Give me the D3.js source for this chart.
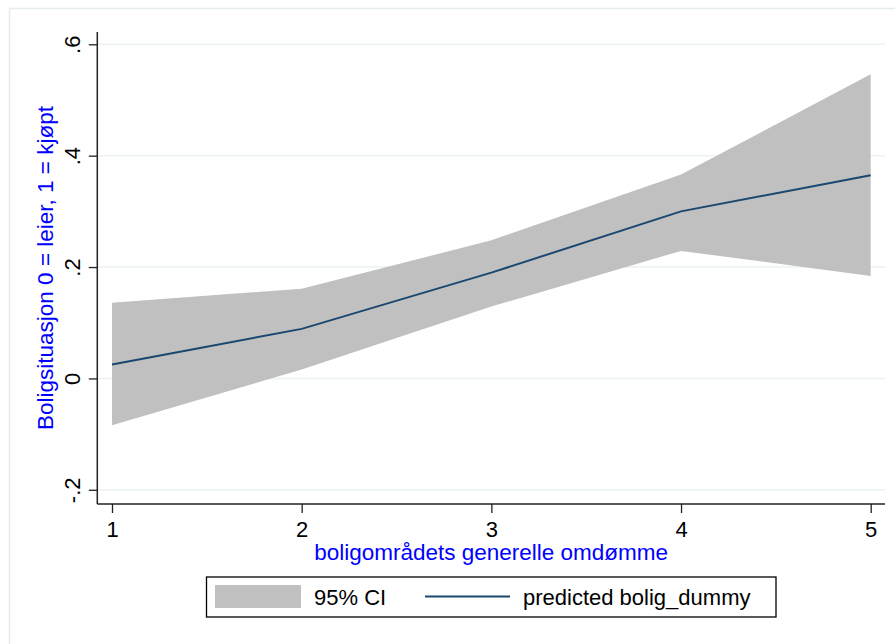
<!DOCTYPE html>
<html>
<head>
<meta charset="utf-8">
<script src="https://cdn.jsdelivr.net/npm/d3@7/dist/d3.min.js"></script>
<style>
  html, body { margin: 0; padding: 0; background: #ffffff; }
  svg { display: block; font-family: "Liberation Sans", Arial, Helvetica, sans-serif; }
</style>
</head>
<body>
<svg id="chart" width="895" height="644"></svg>
<script>
// Predicted margins with 95% confidence band
const categories = [1, 2, 3, 4, 5];
const predicted  = [0.025, 0.089, 0.190, 0.300, 0.365];
const ciLower    = [-0.084, 0.016, 0.129, 0.229, 0.184];
const ciUpper    = [0.136, 0.161, 0.248, 0.366, 0.546];

const yTickValues = [-0.2, 0, 0.2, 0.4, 0.6];
const yTickLabels = ["-.2", "0", ".2", ".4", ".6"];
const xTickValues = [1, 2, 3, 4, 5];
const xTickLabels = ["1", "2", "3", "4", "5"];

const xTitle = "boligområdets generelle omdømme";
const yTitle = "Boligsituasjon 0 = leier, 1 = kjøpt";
const legendLabels = ["95% CI", "predicted bolig_dummy"];

const svg = d3.select("#chart");

// plot region
const plot = { left: 97.3, right: 885, top: 32, bottom: 504 };

const x = d3.scaleLinear().domain([1, 5]).range([112, 870.7]);
const y = d3.scaleLinear().domain([-0.2, 0.6]).range([489.8, 44.3]);

// outer graph region border
svg.append("rect")
  .attr("x", 9.5).attr("y", 8.5)
  .attr("width", 900).attr("height", 700)
  .attr("fill", "#ffffff")
  .attr("stroke", "#e4ecef")
  .attr("stroke-width", 1.5);

// horizontal grid lines
svg.append("g")
  .selectAll("line")
  .data(yTickValues)
  .join("line")
  .attr("x1", plot.left).attr("x2", plot.right)
  .attr("y1", d => y(d)).attr("y2", d => y(d))
  .attr("stroke", "#eaf2f3")
  .attr("stroke-width", 1.6);

const rows = categories.map((c, i) => ({ x: c, p: predicted[i], lo: ciLower[i], hi: ciUpper[i] }));

// confidence band
svg.append("path")
  .datum(rows)
  .attr("fill", "#c0c0c0")
  .attr("stroke", "none")
  .attr("d", d3.area().x(d => x(d.x)).y0(d => y(d.lo)).y1(d => y(d.hi)));

// predicted line
svg.append("path")
  .datum(rows)
  .attr("fill", "none")
  .attr("stroke", "#1a476f")
  .attr("stroke-width", 2)
  .attr("d", d3.line().x(d => x(d.x)).y(d => y(d.p)));

// y axis
const yAxis = d3.axisLeft(y)
  .tickValues(yTickValues)
  .tickFormat((d, i) => yTickLabels[i])
  .tickSize(8.5)
  .tickSizeOuter(0)
  .tickPadding(0);

const gy = svg.append("g")
  .attr("transform", `translate(${plot.left},0)`)
  .call(yAxis);
gy.select(".domain").remove();
gy.selectAll(".tick line").attr("stroke", "#222").attr("stroke-width", 1.3);
gy.selectAll(".tick text")
  .attr("fill", "#000")
  .attr("font-size", 22)
  .attr("text-anchor", "middle")
  .attr("x", null).attr("dy", null)
  .attr("transform", "translate(-17,0) rotate(-90)")
  .attr("y", 0);
gy.append("line")
  .attr("x1", 0).attr("x2", 0)
  .attr("y1", plot.top).attr("y2", plot.bottom)
  .attr("stroke", "#222").attr("stroke-width", 1.5);

// x axis
const xAxis = d3.axisBottom(x)
  .tickValues(xTickValues)
  .tickFormat((d, i) => xTickLabels[i])
  .tickSize(9)
  .tickSizeOuter(0)
  .tickPadding(0);

const gx = svg.append("g")
  .attr("transform", `translate(0,${plot.bottom})`)
  .call(xAxis);
gx.select(".domain").remove();
gx.selectAll(".tick line").attr("stroke", "#222").attr("stroke-width", 1.3);
gx.selectAll(".tick text")
  .attr("fill", "#000")
  .attr("font-size", 22)
  .attr("dy", null)
  .attr("y", 33);
gx.append("line")
  .attr("x1", plot.left).attr("x2", plot.right)
  .attr("y1", 0).attr("y2", 0)
  .attr("stroke", "#222").attr("stroke-width", 1.5);

// axis titles
svg.append("text")
  .attr("x", (plot.left + plot.right) / 2)
  .attr("y", 560)
  .attr("text-anchor", "middle")
  .attr("font-size", 22.5)
  .attr("fill", "#0000ff")
  .text(xTitle);

svg.append("text")
  .attr("transform", `translate(53,${(plot.top + plot.bottom) / 2}) rotate(-90)`)
  .attr("text-anchor", "middle")
  .attr("font-size", 22.5)
  .attr("fill", "#0000ff")
  .text(yTitle);

// legend
const legend = svg.append("g");
legend.append("rect")
  .attr("x", 206.5).attr("y", 577)
  .attr("width", 569.5).attr("height", 40)
  .attr("fill", "#ffffff")
  .attr("stroke", "#000")
  .attr("stroke-width", 1.3);
legend.append("rect")
  .attr("x", 215).attr("y", 585)
  .attr("width", 86).attr("height", 23)
  .attr("fill", "#c0c0c0");
legend.append("text")
  .attr("x", 314).attr("y", 604.5)
  .attr("font-size", 22)
  .attr("fill", "#000")
  .text(legendLabels[0]);
legend.append("line")
  .attr("x1", 425).attr("x2", 510)
  .attr("y1", 596.5).attr("y2", 596.5)
  .attr("stroke", "#1a476f")
  .attr("stroke-width", 2);
legend.append("text")
  .attr("x", 523).attr("y", 604.5)
  .attr("font-size", 22)
  .attr("fill", "#000")
  .text(legendLabels[1]);
</script>
</body>
</html>
